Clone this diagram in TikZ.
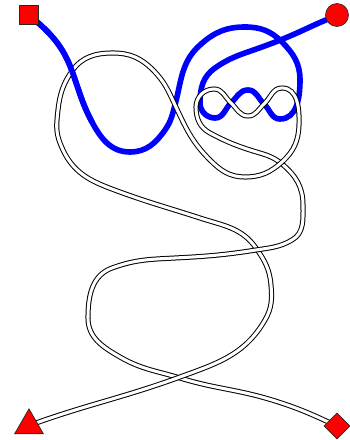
\documentclass[tikz,border=0pt]{standalone}
\usetikzlibrary{shapes.geometric,backgrounds}
\begin{document}
\begin{tikzpicture}[x=0.75pt,y=0.75pt,
  rope/.style={draw=black,line width=0.75pt,double=white,double distance=2.3pt},
  band/.style={draw=blue,line width=4.2pt},
  endmark/.style={draw=black!85,fill=red,line width=0.5pt,inner sep=0pt}]
\useasboundingbox (0,0) rectangle (350,440);
% end markers
\node[endmark,minimum size=14.25pt] (sq) at (28.5,425.5) {};
\node[endmark,circle,minimum size=17.25pt] (ci) at (337,425) {};
\node[endmark,regular polygon,regular polygon sides=3,minimum size=25pt] (tri) at (29,14.5) {};
\node[endmark,diamond,minimum size=19.5pt] (dia) at (337,14) {};
% blue band waypoints
\coordinate (b1) at (72,369);
\coordinate (b2) at (92,318);
\coordinate (b3) at (130,288);
\coordinate (b4) at (165,310);
\coordinate (b5) at (175,335);
\coordinate (b6) at (200,395);
\coordinate (b7) at (245,413);
\coordinate (b8) at (282,398);
\coordinate (b9) at (300,360);
\coordinate (b10) at (280,321);
\coordinate (b11) at (264,336);
\coordinate (b12) at (248,350);
\coordinate (b13) at (231,337);
\coordinate (b14) at (215,322);
\coordinate (b15) at (200,337);
\coordinate (b16) at (215,372);
\coordinate (b17) at (262,393);
\coordinate (b18) at (310,413);
% rope waypoints
\coordinate (r1) at (180,63);
\coordinate (r2) at (265,120);
\coordinate (r3) at (271,155);
\coordinate (r4) at (256,192);
\coordinate (r5) at (200,222);
\coordinate (r6) at (120,248);
\coordinate (r7) at (63,290);
\coordinate (r8) at (57,320);
\coordinate (r9) at (72,369);
\coordinate (r10) at (113,387);
\coordinate (r11) at (153,370);
\coordinate (r12) at (175,335);
\coordinate (r13) at (210,280);
\coordinate (r14) at (245,263);
\coordinate (r15) at (282,278);
\coordinate (r16) at (299,315);
\coordinate (r17) at (282,352);
\coordinate (r18) at (264,336);
\coordinate (r19) at (248,324);
\coordinate (r20) at (231,337);
\coordinate (r21) at (214,351);
\coordinate (r22) at (196,333);
\coordinate (r23) at (210,307);
\coordinate (r24) at (250,290);
\coordinate (r25) at (282,276);
\coordinate (r26) at (303,235);
\coordinate (r27) at (292,200);
\coordinate (r28) at (256,190);
\coordinate (r29) at (175,182);
\coordinate (r30) at (112,172);
\coordinate (r31) at (88,122);
\coordinate (r32) at (120,83);
\coordinate (r33) at (180,62);
\coordinate (r34) at (272,40);
\begin{pgfonlayer}{background}
% blue band
\draw[band] (sq.center) to[out=-40,in=110] (b1) to[out=-70,in=118] (b2)
  to[out=-62,in=180] (b3) to[out=0,in=235] (b4) to[out=55,in=255] (b5)
  to[out=75,in=222] (b6) to[out=42,in=180] (b7) to[out=0,in=135] (b8)
  to[out=-45,in=90] (b9) to[out=-90,in=0] (b10) to[out=180,in=-43] (b11)
  to[out=137,in=0] (b12) to[out=180,in=43] (b13) to[out=-137,in=0] (b14)
  to[out=180,in=-90] (b15) to[out=90,in=215] (b16) to[out=35,in=200] (b17)
  to[out=20,in=205] (b18) to[out=25,in=205] (ci.center);
% rope, under pieces first
\draw[rope] (r17) to[out=180,in=43] (r18) to[out=-137,in=0] (r19)
  to[out=180,in=-43] (r20) to[out=137,in=0] (r21) to[out=180,in=90] (r22)
  to[out=-90,in=152] (r23) to[out=-28,in=162] (r24) to[out=-18,in=140] (r25)
  to[out=-40,in=90] (r26);
\draw[rope] (r31) to[out=-90,in=150] (r32) to[out=-30,in=163] (r33)
  to[out=-17,in=163] (r34) to[out=-17,in=155] (dia.center);
\draw[rope] (r3) to[out=95,in=305] (r4) to[out=125,in=342] (r5);
\draw[rope] (tri.center) to[out=20,in=200] (r1) to[out=20,in=240] (r2)
  to[out=60,in=275] (r3);
\draw[rope] (r5) to[out=162,in=340] (r6) to[out=160,in=295] (r7)
  to[out=115,in=265] (r8) to[out=85,in=235] (r9) to[out=55,in=180] (r10)
  to[out=0,in=135] (r11) to[out=-45,in=115] (r12) to[out=-65,in=135] (r13)
  to[out=-45,in=180] (r14) to[out=0,in=222] (r15) to[out=42,in=268] (r16)
  to[out=88,in=0] (r17);
\draw[rope] (r26) to[out=-90,in=30] (r27) to[out=-150,in=9] (r28)
  to[out=-171,in=3] (r29) to[out=-177,in=20] (r30) to[out=-160,in=90] (r31);
% blue over the left loop
\draw[band] (sq.center) to[out=-40,in=110] (b1) to[out=-70,in=118] (b2);
\end{pgfonlayer}
\end{tikzpicture}
\end{document}
